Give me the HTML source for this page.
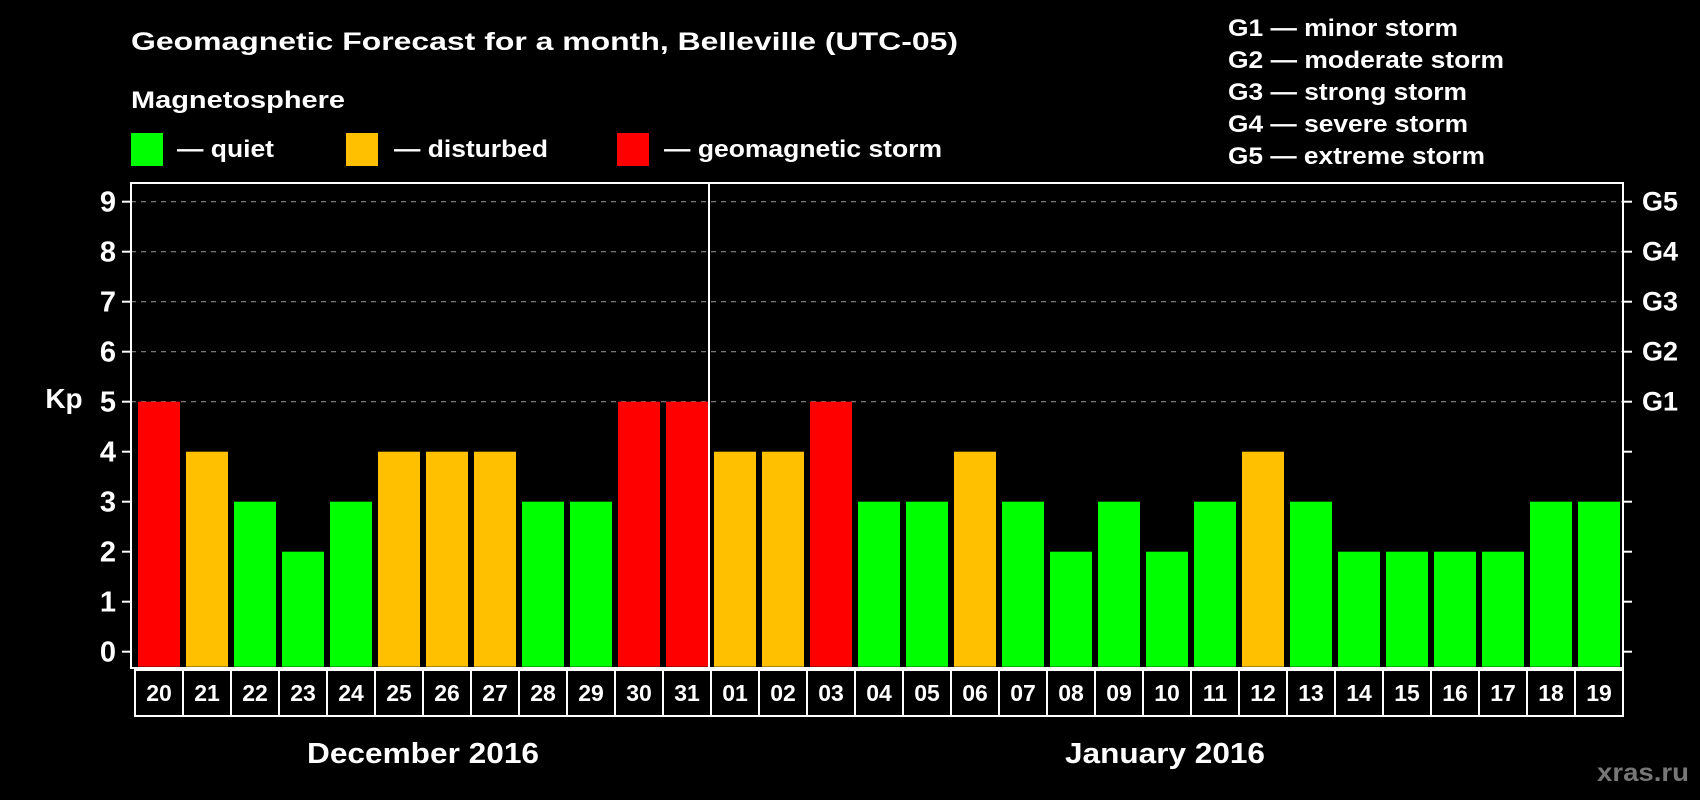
<!DOCTYPE html>
<html><head><meta charset="utf-8"><style>
html,body{margin:0;padding:0;background:#000;}
svg{display:block;font-family:"Liberation Sans",sans-serif;font-weight:bold;}
</style></head><body>
<svg width="1700" height="800" viewBox="0 0 1700 800">
<text x="131" y="50" fill="#fff" font-size="25" textLength="827" lengthAdjust="spacingAndGlyphs">Geomagnetic Forecast for a month, Belleville (UTC-05)</text>
<text x="131" y="108" fill="#fff" font-size="24" textLength="214" lengthAdjust="spacingAndGlyphs">Magnetosphere</text>
<rect x="131" y="133" width="32" height="33" fill="#00ff00"/>
<text x="177" y="157" fill="#fff" font-size="24" textLength="97" lengthAdjust="spacingAndGlyphs">— quiet</text>
<rect x="346" y="133" width="32" height="33" fill="#ffc000"/>
<text x="394" y="157" fill="#fff" font-size="24" textLength="154" lengthAdjust="spacingAndGlyphs">— disturbed</text>
<rect x="617" y="133" width="32" height="33" fill="#ff0000"/>
<text x="664" y="157" fill="#fff" font-size="24" textLength="278" lengthAdjust="spacingAndGlyphs">— geomagnetic storm</text>
<g fill="#fff" font-size="24">
<text x="1228" y="36" textLength="230" lengthAdjust="spacingAndGlyphs">G1 — minor storm</text>
<text x="1228" y="68" textLength="276" lengthAdjust="spacingAndGlyphs">G2 — moderate storm</text>
<text x="1228" y="100" textLength="239" lengthAdjust="spacingAndGlyphs">G3 — strong storm</text>
<text x="1228" y="132" textLength="240" lengthAdjust="spacingAndGlyphs">G4 — severe storm</text>
<text x="1228" y="164" textLength="257" lengthAdjust="spacingAndGlyphs">G5 — extreme storm</text>
</g>
<text x="64" y="408" fill="#fff" font-size="28" text-anchor="middle">Kp</text>
<g id="grid"></g>
<g id="bars"></g>
<rect x="131" y="183" width="1492" height="485" fill="none" stroke="#fff" stroke-width="2"/>
<line x1="709" y1="183" x2="709" y2="668" stroke="#fff" stroke-width="2"/>
<g id="axes"></g>
<g id="dates"></g>
<text x="307" y="763" fill="#fff" font-size="29" textLength="232" lengthAdjust="spacingAndGlyphs">December 2016</text>
<text x="1065" y="763" fill="#fff" font-size="29" textLength="200" lengthAdjust="spacingAndGlyphs">January 2016</text>
<text x="1597" y="781" fill="#777" font-size="25" textLength="92" lengthAdjust="spacingAndGlyphs">xras.ru</text>
</svg>
<script>
const days = ["20","21","22","23","24","25","26","27","28","29","30","31","01","02","03","04","05","06","07","08","09","10","11","12","13","14","15","16","17","18","19"];
const kpValues = [5,4,3,2,3,4,4,4,3,3,5,5,4,4,5,3,3,4,3,2,3,2,3,4,3,2,2,2,2,3,3];
const yTicks = [0,1,2,3,4,5,6,7,8,9];
const gLabels = ["G1","G2","G3","G4","G5"];
const NS="http://www.w3.org/2000/svg";
const y = v => 651.7 - v*50;
const x = i => 138 + i*48;
function mk(tag, attrs, parent){const e=document.createElementNS(NS,tag);for(const k in attrs)e.setAttribute(k,attrs[k]);parent.appendChild(e);return e;}
const grid=document.getElementById('grid'),bars=document.getElementById('bars'),axes=document.getElementById('axes'),dates=document.getElementById('dates');
yTicks.forEach(v=>{
  if(v>=5){const l=mk('line',{x1:131,x2:1623,y1:y(v),y2:y(v),stroke:'#888','stroke-width':1.2,'stroke-dasharray':'5,5'},grid);
  
  }
  const t1=mk('line',{x1:122,x2:131,y1:y(v),y2:y(v),stroke:'#fff','stroke-width':2},axes);
  
  
  const t2=mk('line',{x1:1623,x2:1632,y1:y(v),y2:y(v),stroke:'#fff','stroke-width':2},axes);
  
  
  const tx=mk('text',{x:116,y:y(v)+10,fill:'#fff','font-size':29,'text-anchor':'end'},axes);
  tx.textContent=v;
  
  
});
gLabels.forEach((g,i)=>{
  const t=mk('text',{x:1642,y:y(5+i)+9,fill:'#fff','font-size':27},axes);
  t.textContent=g;
  
  
});
kpValues.forEach((v,i)=>{
  const c = v>=5?'#ff0000':(v>=4?'#ffc000':'#00ff00');
  const r=mk('rect',{x:x(i),y:y(v),width:42,height:y(0)-y(v)+15,fill:c},bars);
  
  
  const b=mk('rect',{x:135+i*48,y:670,width:48,height:46,fill:'none',stroke:'#fff','stroke-width':2},dates);
  
  
  const t=mk('text',{x:159+i*48,y:701,fill:'#fff','font-size':23,'text-anchor':'middle'},dates);
  t.textContent=days[i];
  
  
});
</script>
</body></html>
